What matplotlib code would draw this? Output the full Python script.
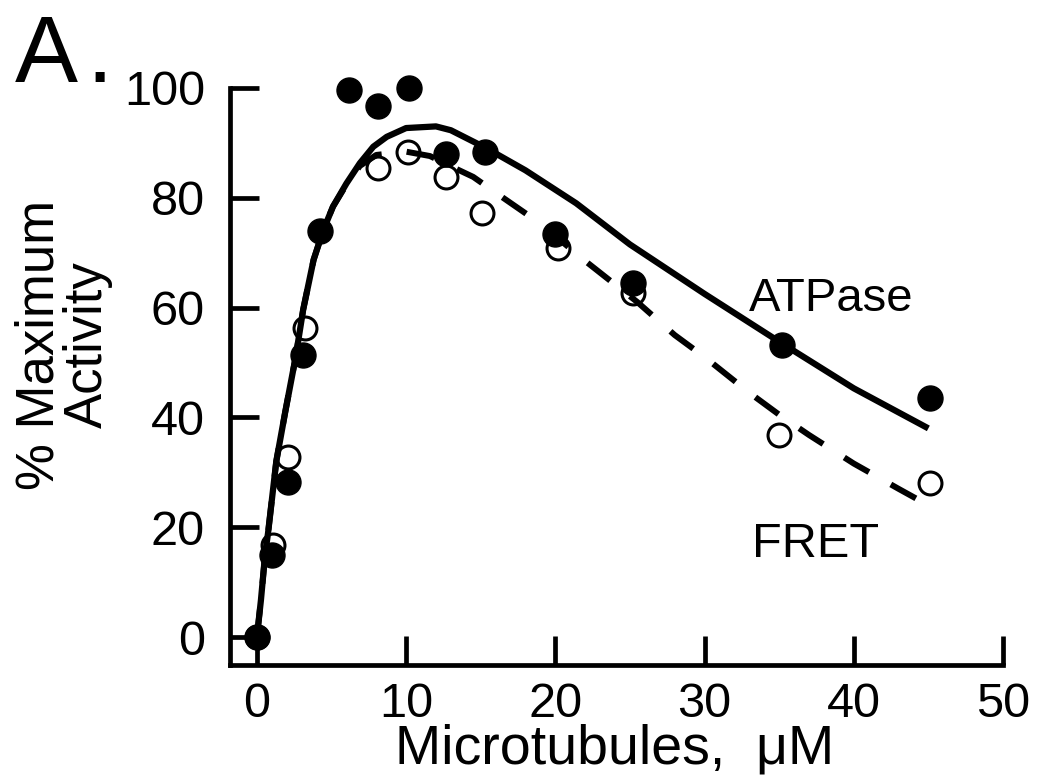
import matplotlib

matplotlib.use("Agg")
import matplotlib.pyplot as plt

atp_x = [0, 1.0, 2.1, 3.1, 4.2, 6.2, 8.1, 10.2, 12.7, 15.3, 20.0, 25.2, 35.2, 45.1]
atp_y = [0, 14.9, 28.2, 51.4, 74.0, 99.6, 96.7, 100.0, 88.0, 88.3, 73.4, 64.5, 53.2, 43.5]

fret_x = [0, 1.1, 2.1, 3.2, 8.1, 10.1, 12.7, 15.1, 20.2, 25.2, 35.0, 45.1]
fret_y = [0, 16.8, 32.8, 56.3, 85.4, 88.3, 83.8, 77.2, 70.9, 62.7, 36.8, 28.0]

# fitted curves, sampled from the figure
atp_curve_x = [0, 0.27, 0.55, 0.75, 1.3, 1.9, 2.6, 3.1, 3.8, 4.45, 5.1, 6.0,
               6.9, 7.8, 8.7, 10, 12, 13, 15.4, 18, 21.4, 25, 30, 35, 40, 45]
atp_curve_y = [0, 6.7, 15, 19, 32, 41, 51, 59.6, 68.7, 74.1, 78.4, 82.6,
               86.3, 89.3, 91.1, 92.7, 93, 92.3, 89, 85, 79, 71.5, 62.5, 53.8, 45.3, 38]

fret_curve_x = [0, 0.27, 0.55, 0.75, 1.3, 1.9, 2.6, 3.1, 3.8, 4.45, 5.1, 6.0,
                6.9, 8, 10, 11.6, 13.1, 14.5, 16.5, 19, 22, 25.5, 28, 30, 33, 35,
                37, 40, 43, 45]
fret_curve_y = [0, 6.7, 15, 19, 32, 41, 51, 59.6, 68.7, 74.1, 78.4, 82.4,
                85.8, 87.8, 88.4, 87.6, 85.6, 83.8, 80, 75.3, 68.5, 61, 55, 51, 44.5, 40.5,
                36.8, 31.6, 27, 24]

x_ticks = [0, 10, 20, 30, 40, 50]
y_ticks = [0, 20, 40, 60, 80, 100]

plt.rcParams["font.family"] = ["Liberation Sans", "DejaVu Sans"]

fig = plt.figure(figsize=(10.39, 7.75), dpi=100)
ax = fig.add_axes([0.2214, 0.1419, 0.7439, 0.7446])

ax.plot(fret_x, fret_y, "o", ms=16.5, mfc="none", mec="black", mew=2.2,
        clip_on=False, zorder=2)
ax.plot(atp_curve_x, atp_curve_y, "-", color="black", lw=4.5,
        solid_capstyle="butt", solid_joinstyle="round", zorder=3)
ax.plot(fret_curve_x, fret_curve_y, color="black", lw=4.3,
        dashes=(4.8, 4.2), zorder=3)
ax.plot(atp_x, atp_y, "o", ms=18, color="black", clip_on=False, zorder=4)

ax.set_xlim(-1.8, 50)
ax.set_ylim(-5.1, 100)
ax.set_xticks(x_ticks)
ax.set_yticks(y_ticks)

for side in ["top", "right"]:
    ax.spines[side].set_visible(False)
for side in ["left", "bottom"]:
    ax.spines[side].set_linewidth(3.4)

ax.tick_params(axis="both", direction="in", length=21, width=3.4,
               labelsize=35)
ax.tick_params(axis="x", pad=12)
ax.tick_params(axis="y", pad=18)

ax.text(33.0, 59.4, "ATPase", fontsize=34, ha="left", va="baseline")
ax.text(33.2, 14.6, "FRET", fontsize=35, ha="left", va="baseline")

fig.text(615 / 1039, 1 - 763 / 775, "Microtubules,  \u03bcM", fontsize=40,
         ha="center", va="baseline")
fig.text(0.061, 0.555, "% Maximum\nActivity", fontsize=38, rotation=90,
         ha="center", va="center", multialignment="center", linespacing=0.95)
fig.text(15 / 1039, 1 - 82 / 775, "A", fontsize=68, ha="left", va="baseline")
fig.text(86 / 1039, 1 - 82 / 775, ".", fontsize=68, ha="left", va="baseline")

fig.savefig("out.png", dpi=100)
